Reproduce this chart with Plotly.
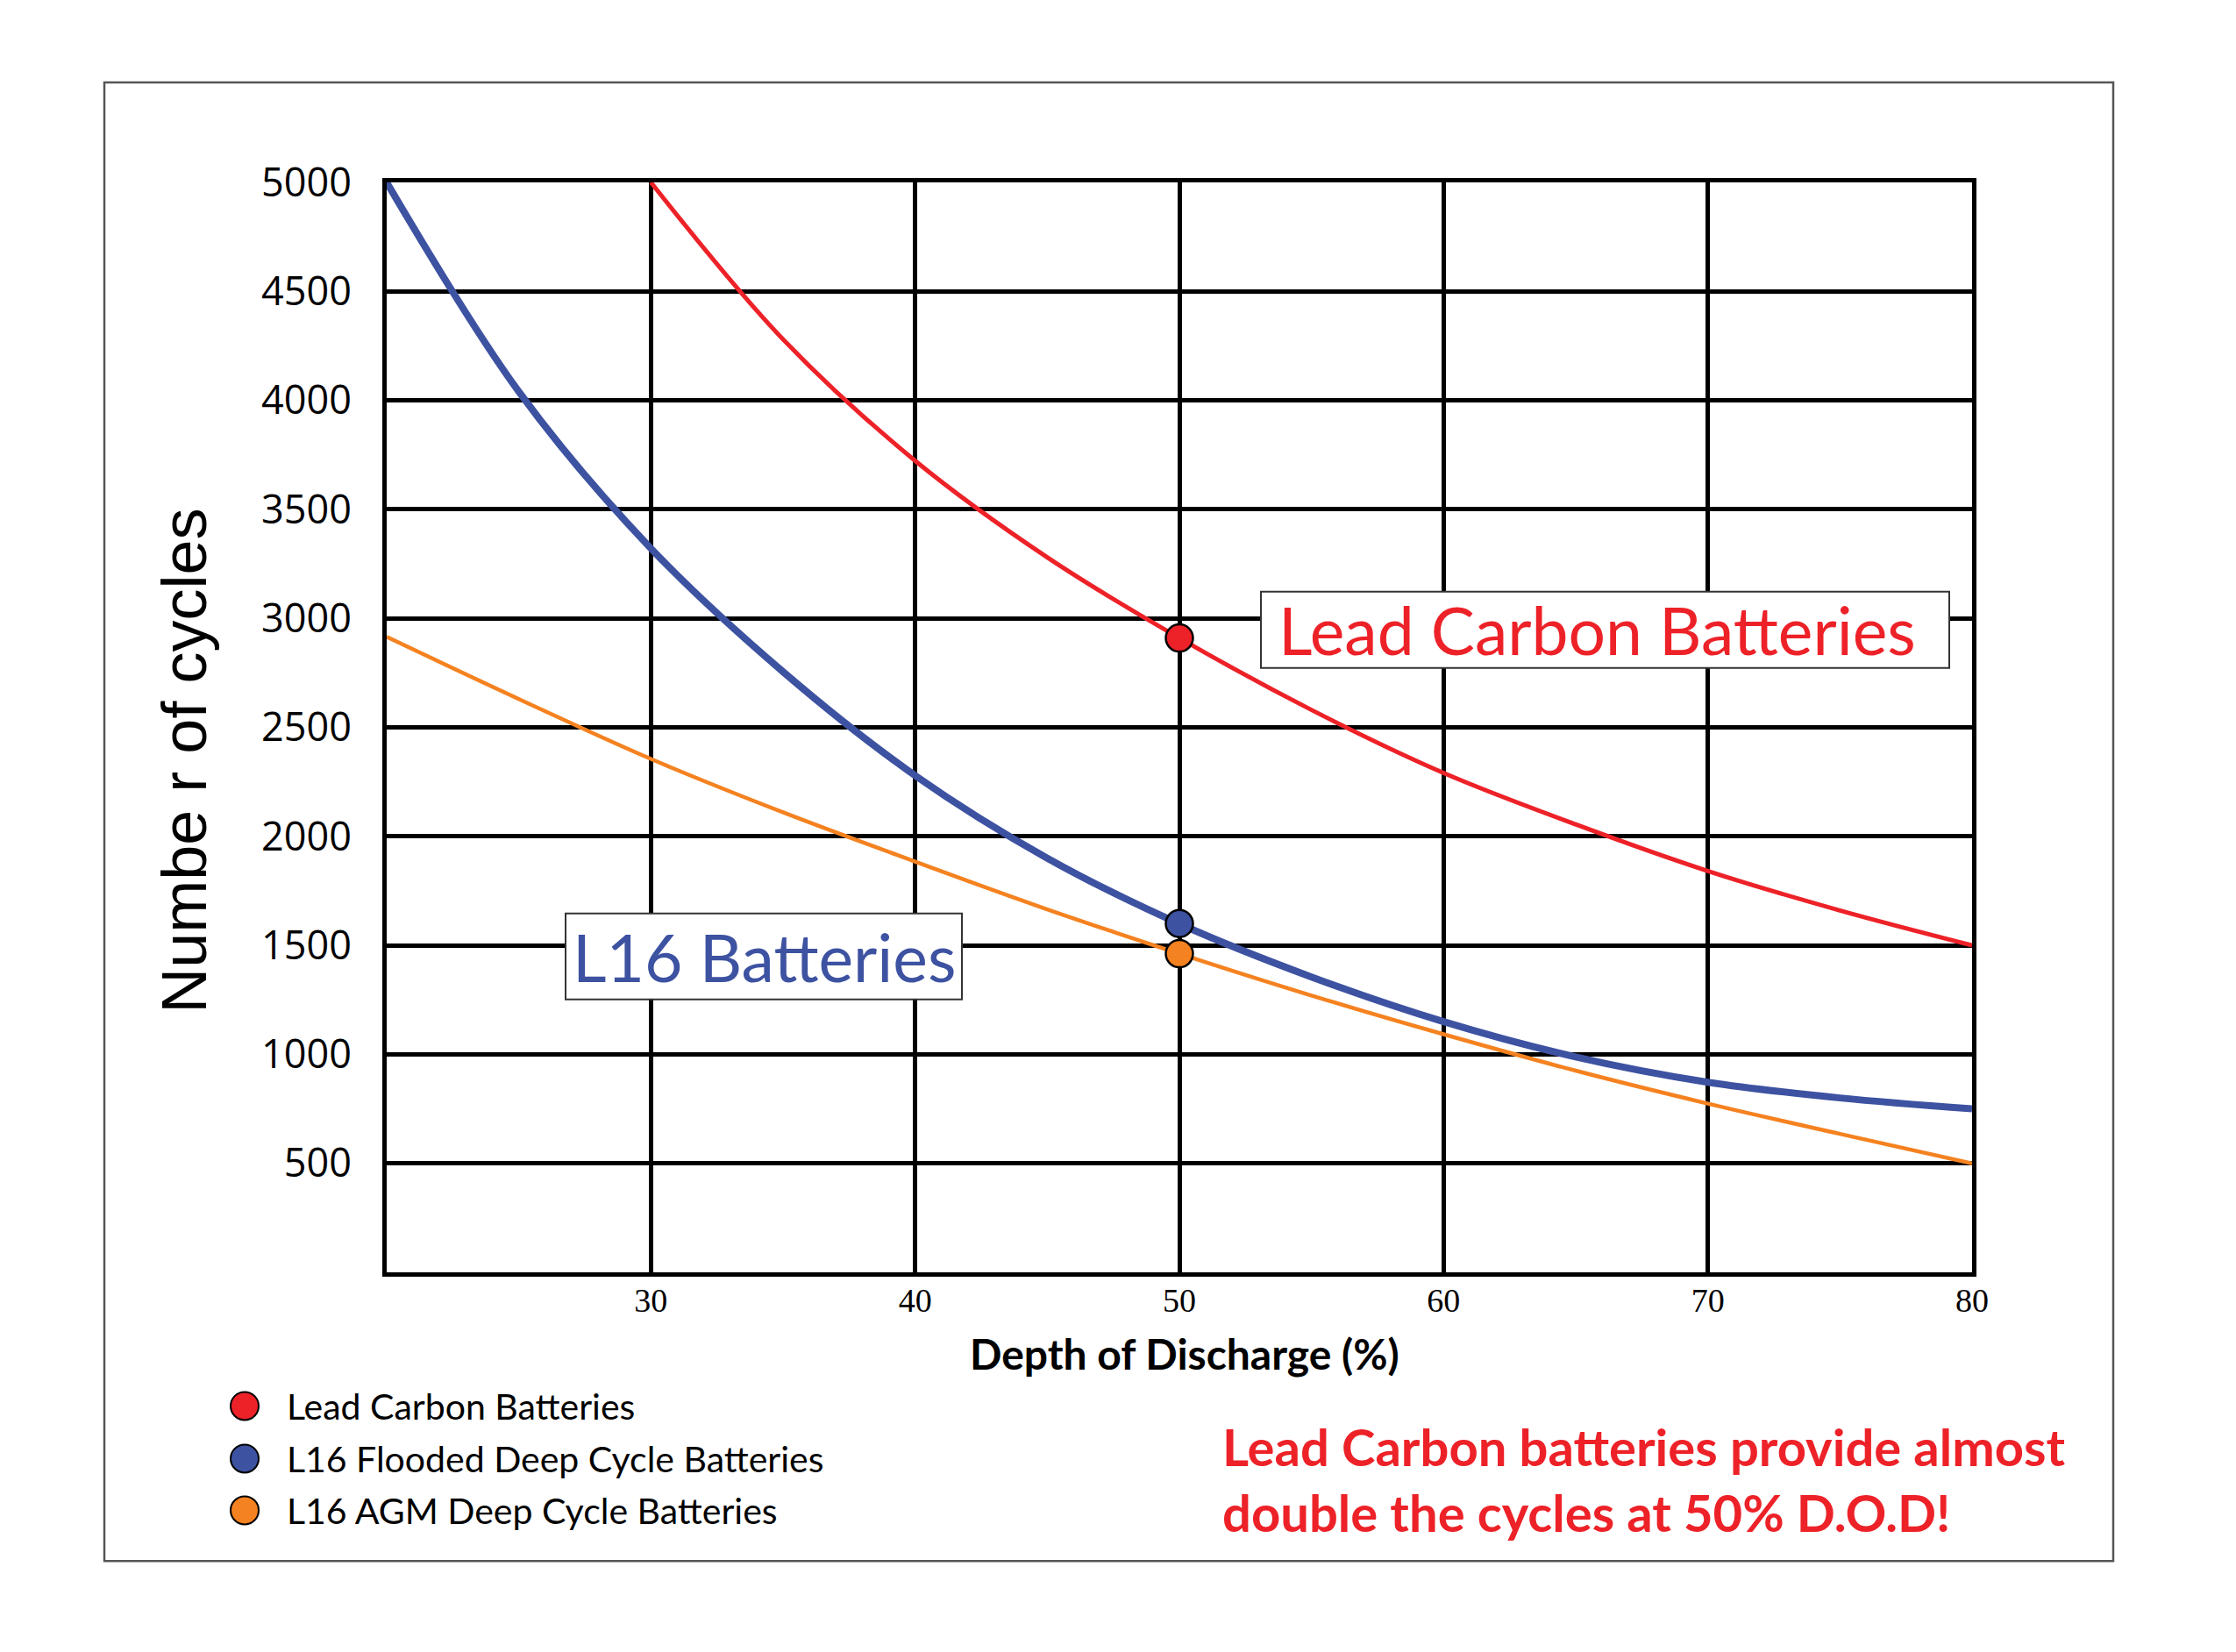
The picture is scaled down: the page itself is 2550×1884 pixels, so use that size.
"""
    Cycle life vs depth of discharge for three battery types.
"""
import plotly.graph_objects as go

# depth of discharge (%) sample points
dod = [20, 25, 30, 35, 40, 45, 50, 55, 60, 65, 70, 75, 80]

# number of cycles
lead_carbon = [None, None, 5000, 4280, 3723, 3280, 2910, 2580, 2291, 2055, 1841, 1660, 1500]
l16_flooded = [5000, 4040, 3321, 2755, 2279, 1900, 1599, 1355, 1150, 988, 872, 800, 750]
l16_agm = [2915, 2630, 2355, 2110, 1884, 1665, 1462, 1270, 1092, 925, 774, 635, 500]

# the highlighted 50% DOD points
mark_dod = [50]
mark_lead_carbon = [2910]
mark_flooded = [1600]
mark_agm = [1462]

series_names = ['Lead Carbon Batteries', 'L16 Flooded Deep Cycle Batteries',
                'L16 AGM Deep Cycle Batteries']
colors = ['#ED2228', '#3D52A1', '#F58220']

x_ticks = [30, 40, 50, 60, 70, 80]
y_ticks = [500, 1000, 1500, 2000, 2500, 3000, 3500, 4000, 4500, 5000]

note_lines = ['Lead Carbon batteries provide almost', 'double the cycles at 50% D.O.D!']

W, H = 2550, 1884
# plot area in pixels
L, R, T, B = 441, 2249, 208, 1451.5


def px(x):
    return (x - L) / (R - L)


def py(y):
    return (B - y) / (B - T)


fig = go.Figure()

fig.add_trace(go.Scatter(x=dod, y=l16_agm, mode='lines', name=series_names[2],
                         line=dict(color=colors[2], width=4.5, shape='spline')))
fig.add_trace(go.Scatter(x=dod, y=l16_flooded, mode='lines', name=series_names[1],
                         line=dict(color=colors[1], width=8, shape='spline')))
fig.add_trace(go.Scatter(x=dod, y=lead_carbon, mode='lines', name=series_names[0],
                         line=dict(color=colors[0], width=5, shape='spline')))

for vals, c in [(mark_lead_carbon, colors[0]), (mark_flooded, colors[1]), (mark_agm, colors[2])]:
    fig.add_trace(go.Scatter(x=mark_dod, y=vals, mode='markers',
                             marker=dict(color=c, size=31, line=dict(color='black', width=2.5))))

shapes = [
    # outer frame
    dict(type='rect', xref='paper', yref='paper', x0=px(119), x1=px(2410), y0=py(1781), y1=py(94),
         line=dict(color='#555555', width=2.5), layer='below'),
    # label boxes
    dict(type='rect', xref='paper', yref='paper', x0=px(1438), x1=px(2223), y0=py(762), y1=py(675),
         line=dict(color='#333333', width=2), fillcolor='white', layer='above'),
    dict(type='rect', xref='paper', yref='paper', x0=px(645), x1=px(1097), y0=py(1140), y1=py(1042),
         line=dict(color='#333333', width=2), fillcolor='white', layer='above'),
]

annotations = [
    dict(text='Lead Carbon Batteries', xref='paper', yref='paper', x=px(1456), y=py(718),
         xanchor='left', yanchor='middle', showarrow=False,
         font=dict(family='Lato', size=75, color=colors[0])),
    dict(text='L16 Batteries', xref='paper', yref='paper', x=px(871), y=py(1091),
         xanchor='center', yanchor='middle', showarrow=False,
         font=dict(family='Lato', size=75, color=colors[1])),
    dict(text='Numbe r of cycles', xref='paper', yref='paper', x=px(210), y=py(868),
         xanchor='center', yanchor='middle', showarrow=False, textangle=-90,
         font=dict(family='Liberation Sans', size=72, color='black')),
    dict(text='Depth of Discharge (%)', xref='paper', yref='paper', x=px(1351), y=py(1544),
         xanchor='center', yanchor='middle', showarrow=False,
         font=dict(family='Lato', size=48, color='black', weight=700)),
]

for line, row in zip(note_lines, [1650, 1725]):
    annotations.append(dict(text=line, xref='paper', yref='paper', x=px(1392), y=py(row),
                            xanchor='left', yanchor='middle', showarrow=False,
                            font=dict(family='Lato', size=58, color=colors[0], weight=700)))

# hand-drawn legend
legend_rows = [1604, 1664, 1723]
for name, c, row in zip(series_names, colors, legend_rows):
    shapes.append(dict(type='circle', xref='paper', yref='paper',
                       x0=px(279 - 16), x1=px(279 + 16), y0=py(row + 16), y1=py(row - 16),
                       fillcolor=c, line=dict(color='black', width=2)))
    annotations.append(dict(text=name, xref='paper', yref='paper', x=px(325), y=py(row),
                            xanchor='left', yanchor='middle', showarrow=False,
                            font=dict(family='Lato', size=41, color='black')))

fig.update_layout(
    width=W,
    height=H,
    showlegend=False,
    plot_bgcolor='white',
    paper_bgcolor='white',
    margin=dict(l=L, r=W - R, t=T, b=H - B, autoexpand=False),
    xaxis=dict(
        range=[20, 80],
        tickvals=x_ticks,
        ticktext=[str(v) for v in x_ticks],
        showgrid=True, gridcolor='black', gridwidth=5,
        showline=True, linecolor='black', linewidth=5, mirror=True,
        zeroline=False, ticks='', ticklabelstandoff=-6,
        tickfont=dict(family='Liberation Serif', size=38, color='black'),
    ),
    yaxis=dict(
        range=[0, 5000],
        tickvals=y_ticks,
        ticktext=[str(v) for v in y_ticks],
        showgrid=True, gridcolor='black', gridwidth=5,
        showline=True, linecolor='black', linewidth=5, mirror=True,
        zeroline=False, ticks='', ticklabelstandoff=26,
        tickfont=dict(family='Open Sans', size=45, color='black'),
    ),
    shapes=shapes,
    annotations=annotations,
)

# drop the default page margin so the figure sits at the window corner
fig.write_html("out.html", config=dict(displayModeBar=False),
               post_script="document.body.style.margin = '0';")
